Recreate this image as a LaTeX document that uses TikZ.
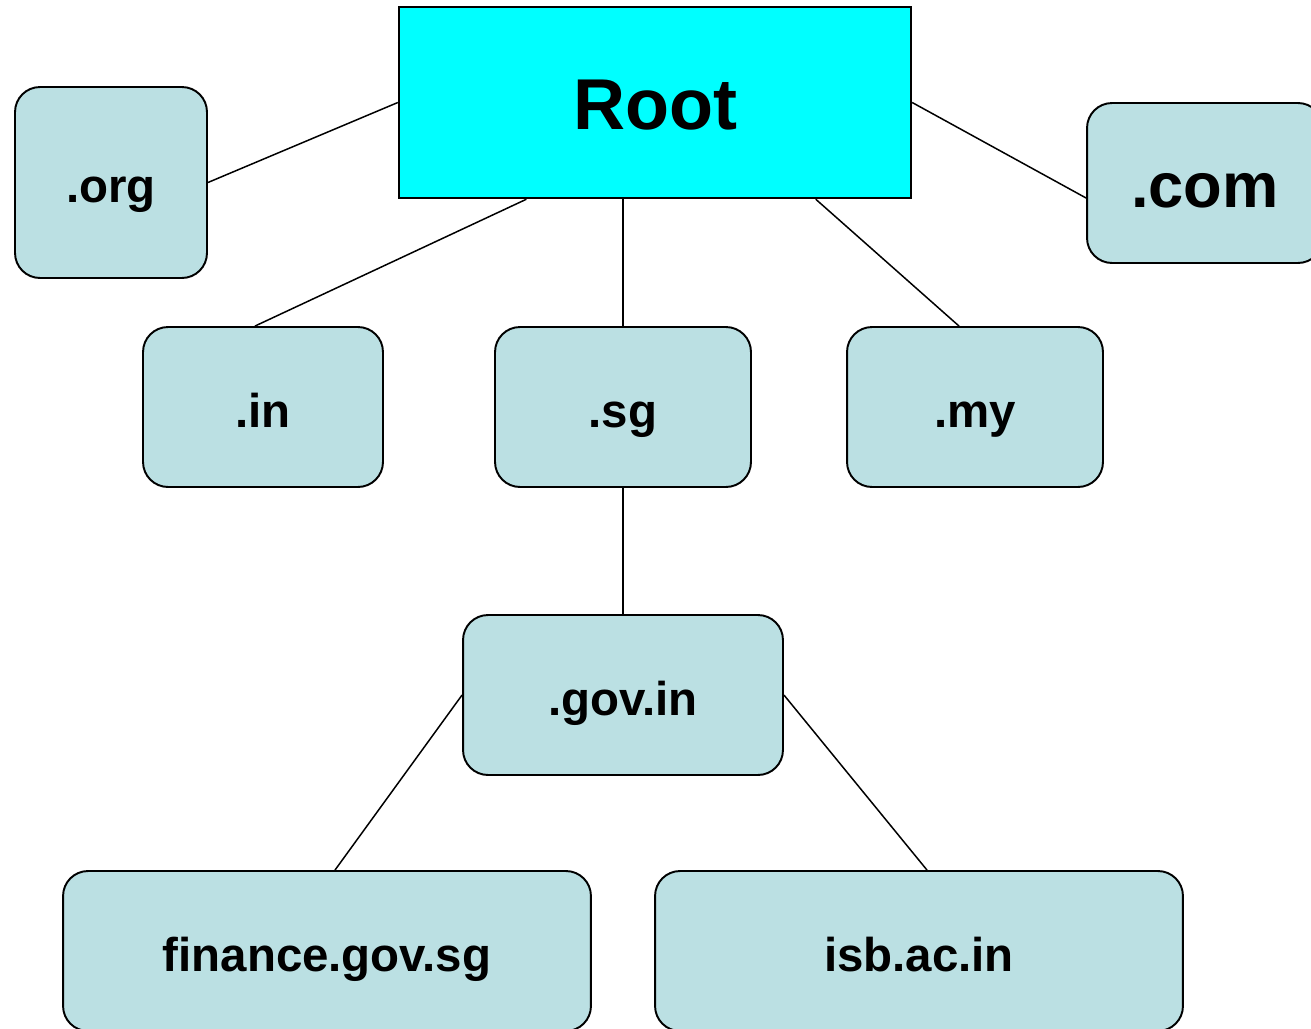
\documentclass[tikz,border=0pt]{standalone}
\usepackage{fontspec}
\setsansfont{Liberation Sans}
\usetikzlibrary{calc}
\definecolor{dnsfill}{RGB}{187,224,227}
\definecolor{rootfill}{RGB}{0,255,255}

\begin{document}
\begin{tikzpicture}[
  x=0.02cm, y=-0.02cm,
  font=\sffamily\bfseries\fontsize{27}{32}\selectfont,
  box/.style={draw, line width=1.1pt, rounded corners=0.5cm, fill=dnsfill,
    align=center, inner sep=0pt, minimum height=3.2cm,
    text height=0.8cm, text depth=0cm},
  rootbox/.style={draw, line width=1.4pt, fill=rootfill, inner sep=0pt,
    minimum width=10.24cm, minimum height=3.82cm,
    text height=1.1cm, text depth=0cm,
    font=\sffamily\bfseries\fontsize{41}{48}\selectfont},
  link/.style={line width=0.85pt}
]
  \useasboundingbox (0,0) rectangle (1311,1028);
  \clip (0,0) rectangle (1311,1028);

  \node[rootbox] (root) at (655,102.5) {Root};
  \node[box, minimum width=3.84cm, minimum height=3.82cm] (org) at (111,182.5) {.org};
  \node[box, minimum width=4.72cm, text height=0.96cm,
    font=\sffamily\bfseries\fontsize{36}{42}\selectfont] (com) at (1205,183) {.com};
  \node[box, minimum width=4.8cm] (in) at (263,407) {.in};
  \node[box, minimum width=5.12cm] (sg) at (623,407) {.sg};
  \node[box, minimum width=5.12cm] (my) at (975,407) {.my};
  \node[box, minimum width=6.4cm] (gov) at (623,695) {.gov.in};
  \node[box, minimum width=10.56cm] (fin) at (327,951) {finance.gov.sg};
  \node[box, minimum width=10.56cm] (isb) at (919,951) {isb.ac.in};

  \draw[link] (root.west) -- (org.east);
  \draw[link] (root.east) -- ([yshift=-0.3cm]com.west);
  \draw[link] ($(root.south west)!0.25!(root.south east)$) -- ([xshift=-0.16cm]in.north);
  \draw[link] (root.south -| sg.north) -- (sg.north);
  \draw[link] ($(root.south west)!0.8125!(root.south east)$) -- ([xshift=-0.32cm]my.north);
  \draw[link] (sg.south) -- (gov.north);
  \draw[link] (gov.west) -- ([xshift=0.16cm]fin.north);
  \draw[link] (gov.east) -- ([xshift=0.16cm]isb.north);
\end{tikzpicture}
\end{document}
